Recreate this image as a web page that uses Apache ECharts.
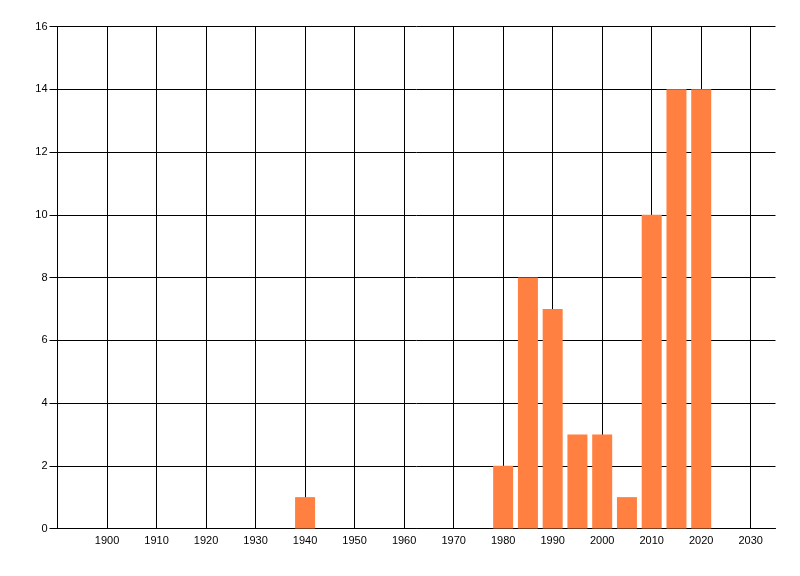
<!DOCTYPE html>
<html>
<head>
<meta charset="utf-8">
<script src="https://cdn.jsdelivr.net/npm/echarts@6/dist/echarts.min.js"></script>
<style>html,body{margin:0;padding:0;background:#fff;}#c{width:800px;height:576px;}</style>
</head>
<body>
<div id="c"></div>
<script>
const years = [1940, 1980, 1985, 1990, 1995, 2000, 2005, 2010, 2015, 2020];
const counts = [1, 2, 8, 7, 3, 3, 1, 10, 14, 14];
const yTicks = [0, 2, 4, 6, 8, 10, 12, 14, 16];
const xTicks = [1900, 1910, 1920, 1930, 1940, 1950, 1960, 1970, 1980, 1990, 2000, 2010, 2020, 2030];

const chart = echarts.init(document.getElementById('c'), null, {renderer: 'canvas'});
chart.setOption({
  animation: false,
  backgroundColor: '#ffffff',
  textStyle: {fontFamily: 'Liberation Sans, Arial, sans-serif'},
  grid: {left: 57.5, right: 24.5, top: 26.5, bottom: 47.5, containLabel: false},
  xAxis: {
    type: 'value', min: 1890, max: 2035, interval: 10,
    axisLine: {show: true, lineStyle: {color: '#000', width: 1}},
    axisTick: {show: false},
    splitLine: {show: false},
    axisLabel: {
      color: '#000', fontSize: 11, margin: 7, showMaxLabel: false, showMinLabel: false,
      formatter: v => xTicks.indexOf(v) >= 0 ? String(v) : ''
    }
  },
  yAxis: {
    type: 'value', min: yTicks[0], max: yTicks[yTicks.length - 1], interval: 2,
    axisLine: {show: true, lineStyle: {color: '#000', width: 1}},
    axisTick: {show: true, length: 8, lineStyle: {color: '#000', width: 1}},
    splitLine: {show: true, lineStyle: {color: '#000', width: 1}},
    axisLabel: {color: '#000', fontSize: 11, margin: 10}
  },
  series: [{
    type: 'bar',
    data: years.map((y, i) => [y, counts[i]]),
    barWidth: 20,
    itemStyle: {color: '#FF8040'},
    silent: true,
    z: 3,
    markLine: {
      silent: true,
      symbol: ['none', 'none'],
      label: {show: false},
      lineStyle: {color: '#000', width: 1, type: 'solid'},
      z: 1,
      data: xTicks.map(x => ({xAxis: x}))
    }
  }]
});
</script>
</body>
</html>
